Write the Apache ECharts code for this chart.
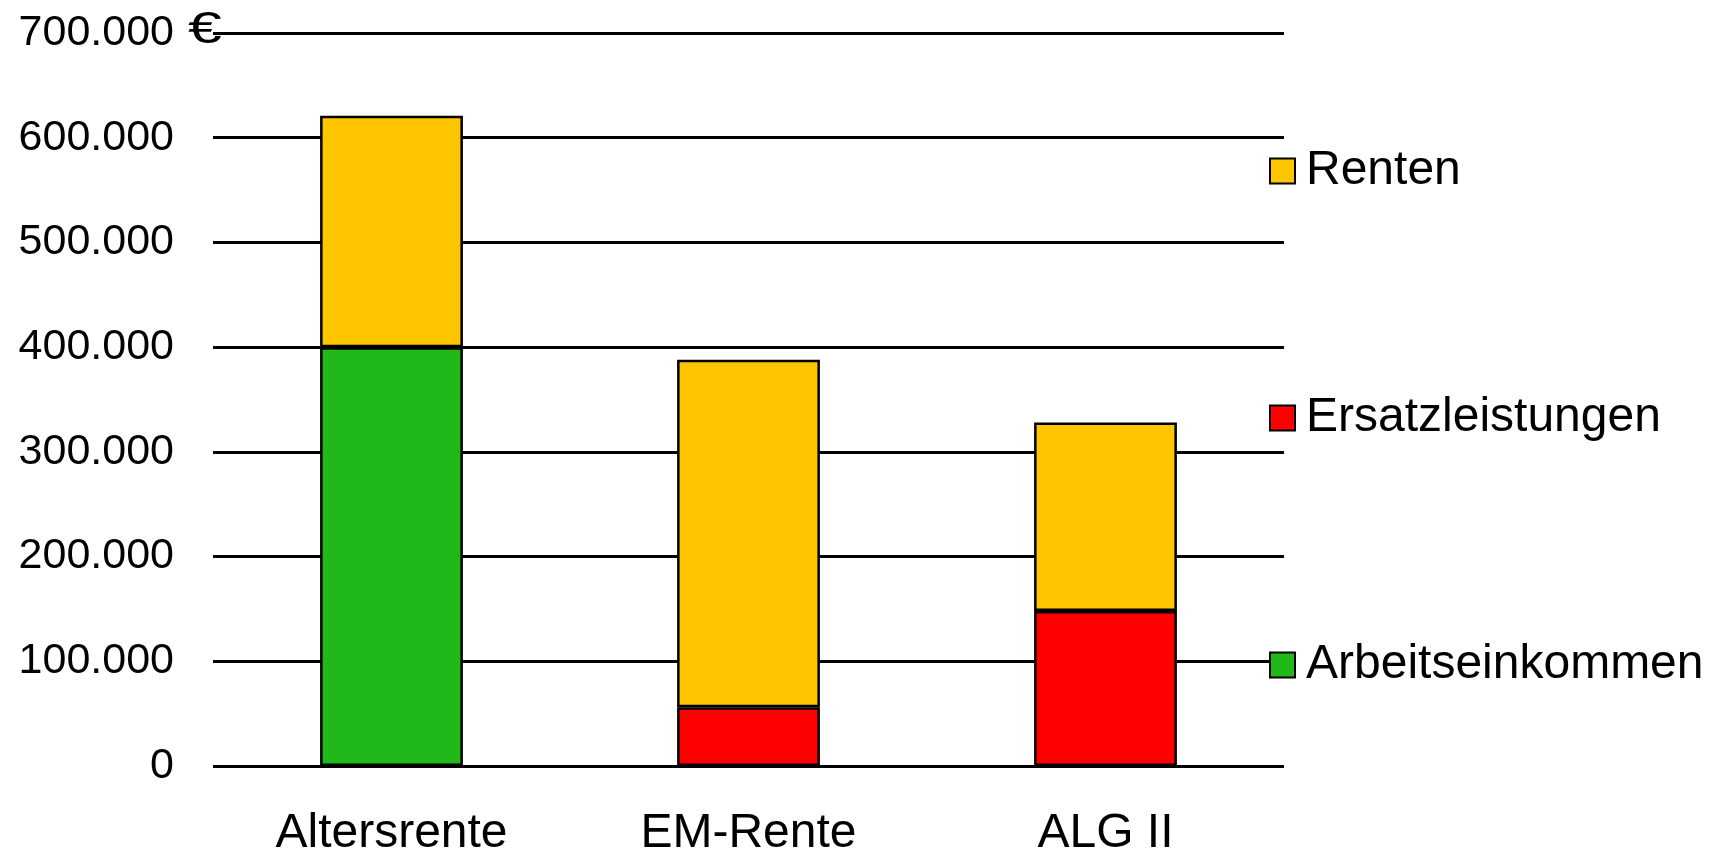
<!DOCTYPE html>
<html>
<head>
<meta charset="utf-8">
<script src="https://cdn.jsdelivr.net/npm/echarts@6/dist/echarts.min.js"></script>
<style>
  html, body { margin: 0; padding: 0; background: #fff; }
  #chart { width: 1722px; height: 858px; }
</style>
</head>
<body>
<div id="chart"></div>
<script>
// Einkommensbestandteile nach Leistungsart (in Euro)
const categories = ['Altersrente', 'EM-Rente', 'ALG II'];
const arbeitseinkommen = [400000, null, null];
const ersatzleistungen = [null, 56000, 148000];
const renten = [221000, 332000, 180000];
const yTicks = { min: 0, max: 700000, interval: 100000 };

const FONT = '"Liberation Sans", Arial, Helvetica, sans-serif';
const colors = {
  Arbeitseinkommen: '#21B819',
  Ersatzleistungen: '#FF0000',
  Renten: '#FFC600'
};

function deNumber(v) {
  return String(v).replace(/\B(?=(\d{3})+(?!\d))/g, '.');
}

function barSeries(name, data) {
  return {
    name: name,
    type: 'bar',
    stack: 'summe',
    data: data,
    barWidth: '40%',
    itemStyle: { color: colors[name], borderColor: '#000', borderWidth: 2.5 },
    emphasis: { disabled: true }
  };
}

function legendAt(name, top) {
  return {
    data: [name],
    left: 1269,
    top: top,
    padding: 0,
    icon: 'rect',
    itemWidth: 25,
    itemHeight: 25,
    selectedMode: false,
    itemStyle: { borderColor: '#000', borderWidth: 2 },
    textStyle: { fontFamily: FONT, fontSize: 48, color: '#000', lineHeight: 50, padding: [0, 0, 0, 6] }
  };
}

const chart = echarts.init(document.getElementById('chart'), null, { renderer: 'canvas' });
chart.setOption({
  animation: false,
  backgroundColor: '#fff',
  grid: { left: 213, right: 438, top: 33, bottom: 89, containLabel: false },
  xAxis: {
    type: 'category',
    data: categories,
    axisLine: { show: false },
    axisTick: { show: false },
    axisLabel: { fontFamily: FONT, fontSize: 48, color: '#000', margin: 44 }
  },
  yAxis: {
    type: 'value',
    min: yTicks.min,
    max: yTicks.max,
    interval: yTicks.interval,
    axisLine: { show: false },
    axisTick: { show: false },
    splitLine: { lineStyle: { color: '#000', width: 3 } },
    axisLabel: { fontFamily: FONT, fontSize: 43, color: '#000', margin: 39, formatter: deNumber }
  },
  legend: [
    legendAt('Renten', 146),
    legendAt('Ersatzleistungen', 393),
    legendAt('Arbeitseinkommen', 640)
  ],
  graphic: [{
    type: 'text',
    x: 188,
    y: 8,
    scaleX: 1.35,
    z: 10,
    style: { text: '€', font: '45px ' + FONT, fill: '#000' }
  }],
  series: [
    barSeries('Arbeitseinkommen', arbeitseinkommen),
    barSeries('Ersatzleistungen', ersatzleistungen),
    barSeries('Renten', renten)
  ]
});
</script>
</body>
</html>
